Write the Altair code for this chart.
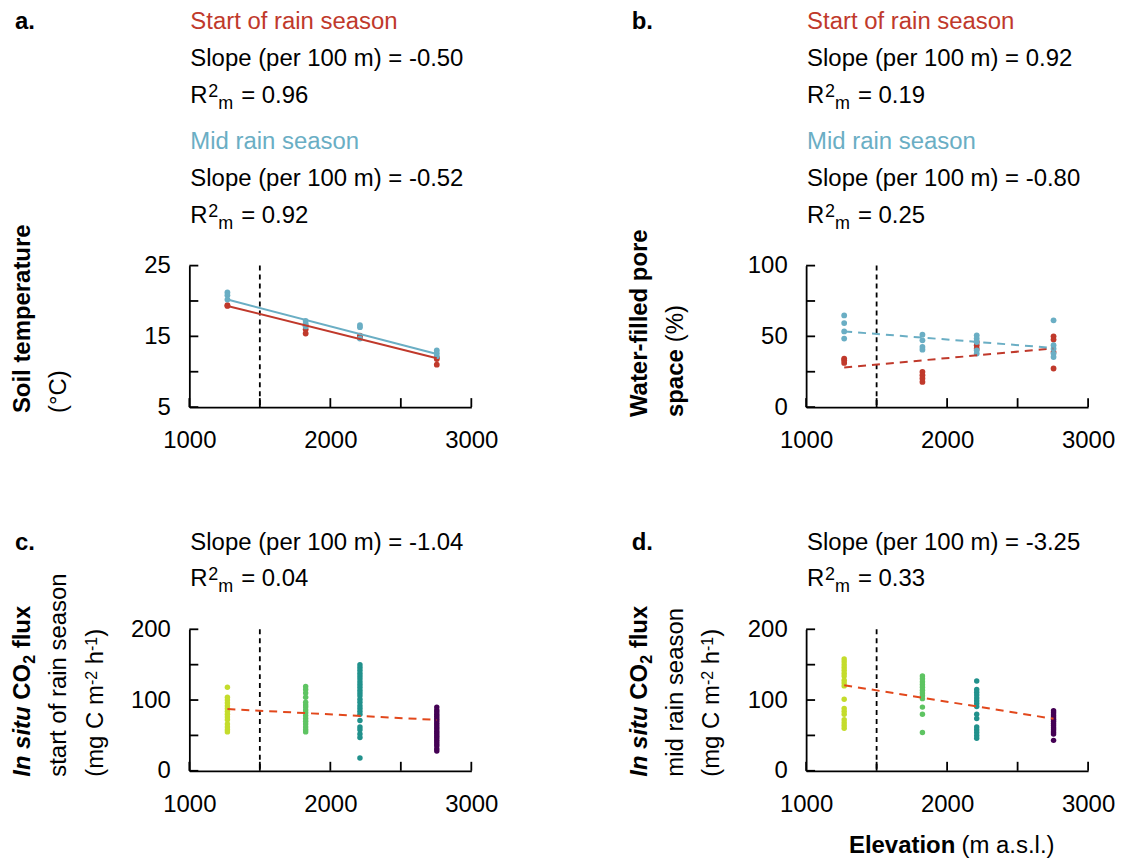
import altair as alt
import pandas as pd

FONT = "Liberation Sans, Arial, Helvetica, sans-serif"

# ---------------- data ----------------
ELEVATIONS = [1270, 1825, 2210, 2755]
FIT_ELEV = [1270, 2755]
VLINE_ELEV = [1500]
X_TICKS = [1000, 1500, 2000, 2500, 3000]
X_LABELS = [1000, 2000, 3000]

# a. soil temperature (deg C)
TEMP_START = [[19.4, 19.3], [16.5, 16.0, 15.4], [15.1, 14.8], [12.0, 11.8, 11.0]]
TEMP_MID = [[21.2, 20.8, 20.2], [17.2, 16.8, 16.4], [16.6, 16.3, 14.7], [13.0, 12.6, 12.2]]
TEMP_START_FIT = [19.3, 11.9]
TEMP_MID_FIT = [20.2, 12.5]
TEMP_TICKS = [5, 10, 15, 20, 25]
TEMP_LABELS = [5, 15, 25]

# b. water-filled pore space (%)
WFPS_START = [[34.3, 33.1, 31.2], [24.9, 22.5, 20.2, 17.8], [46.0, 43.7, 41.3], [50.0, 47.7, 38.9, 27.3]]
WFPS_MID = [[64.8, 59.4, 53.5, 48.4], [51.2, 47.2, 42.5, 40.6], [50.7, 48.4, 46.0, 40.1, 37.8],
            [61.3, 43.7, 41.3, 37.8, 35.4]]
WFPS_START_FIT = [28.0, 41.5]
WFPS_MID_FIT = [53.5, 41.8]
WFPS_TICKS = [0, 25, 50, 75, 100]
WFPS_LABELS = [0, 50, 100]

# c. in situ CO2 flux, start of rain season
FLUX_START = [
    [118, 104, 100, 96, 92, 88, 84, 80, 76, 72, 66, 62, 58, 55],
    [119, 115, 110, 104, 97, 93, 90, 86, 82, 78, 74, 70, 66, 62, 58, 55],
    [150, 146, 142, 138, 134, 130, 126, 122, 118, 114, 110, 106, 101, 97, 92, 88, 84, 80, 71, 62, 58, 52, 47, 18],
    [90, 86, 83, 80, 77, 74, 71, 68, 65, 62, 59, 56, 53, 50, 47, 44, 41, 38, 35, 31, 28],
]
FLUX_START_FIT = [87.3, 71.9]

# d. in situ CO2 flux, mid rain season
FLUX_MID = [
    [158, 154, 150, 146, 142, 138, 134, 128, 124, 120, 101, 88, 84, 80, 72, 68, 64, 60],
    [134, 130, 126, 122, 118, 114, 110, 106, 102, 90, 80, 54],
    [127, 115, 111, 107, 103, 99, 95, 91, 80, 74, 62, 58, 54, 50, 46],
    [85, 82, 79, 76, 73, 70, 67, 64, 61, 58, 55, 52, 43],
]
FLUX_MID_FIT = [121.0, 73.5]
FLUX_TICKS = [0, 50, 100, 150, 200]
FLUX_LABELS = [0, 100, 200]

SITE_COLORS = ["#c4dc2c", "#5ec462", "#21918c", "#440154"]
RED = "#c0392b"
BLUE = "#6aaec4"
FIT_ORANGE = "#e2481c"

W, H = 283, 142
ONE = pd.DataFrame({"k": [0]})


def long_df(groups):
    rows = []
    for e, vals in zip(ELEVATIONS, groups):
        for v in vals:
            rows.append({"elev": e, "val": v, "site": str(e)})
    return pd.DataFrame(rows)


def xenc():
    return alt.X("elev:Q", scale=alt.Scale(domain=[1000, 3000], nice=False, zero=False),
                 axis=alt.Axis(values=X_LABELS, title="", format="d"))


def yenc(dom, labels):
    return alt.Y("val:Q", scale=alt.Scale(domain=dom, nice=False, zero=False),
                 axis=alt.Axis(values=labels, title="", format="d"))


def T(s, x, y, size=24, weight="normal", style="normal", color="black", angle=0):
    kw = dict(align="left", baseline="alphabetic", font=FONT, fontSize=size,
              fontWeight=weight, fontStyle=style, color=color)
    if angle:
        kw["angle"] = angle
    return alt.Chart(ONE).mark_text(**kw).encode(x=alt.value(x), y=alt.value(y), text=alt.value(s))


def r2(val, y):
    return [T("R", 1, y), T("2", 19, y - 6, 18), T("m", 29, y + 6, 18), T("= " + val, 52, y)]


def frame(dom, ticks, labels):
    vline = alt.Chart(pd.DataFrame({"elev": VLINE_ELEV})).mark_rule(
        color="black", strokeDash=[5, 4], strokeWidth=1.8).encode(
        x=xenc(), y=alt.value(0), y2=alt.value(H))
    xt = alt.Chart(pd.DataFrame({"elev": X_TICKS})).mark_rule(
        color="black", strokeWidth=1.8).encode(x=xenc(), y=alt.value(H), y2=alt.value(H - 9))
    yt = alt.Chart(pd.DataFrame({"val": ticks})).mark_rule(
        color="black", strokeWidth=1.8).encode(y=yenc(dom, labels), x=alt.value(0), x2=alt.value(9))
    return [vline, xt, yt]


def pts_fixed(groups, color, dom, labels, size=34):
    return alt.Chart(long_df(groups)).mark_circle(size=size, opacity=1, color=color).encode(
        x=xenc(), y=yenc(dom, labels))


def pts_sites(groups, dom, labels, size=30):
    return alt.Chart(long_df(groups)).mark_circle(size=size, opacity=1).encode(
        x=xenc(), y=yenc(dom, labels),
        color=alt.Color("site:N", scale=alt.Scale(domain=[str(e) for e in ELEVATIONS], range=SITE_COLORS),
                        legend=None))


def fit(vals, color, dom, labels, dash=None):
    kw = dict(color=color, strokeWidth=2)
    if dash:
        kw["strokeDash"] = dash
    return alt.Chart(pd.DataFrame({"elev": FIT_ELEV, "val": vals})).mark_line(**kw).encode(
        x=xenc(), y=yenc(dom, labels))


# text baselines relative to plot top
L1, L2, L3, L4, L5, L6 = -237, -200, -163, -117, -80, -43
TX1 = -160  # first (bold) line of rotated y titles

# ---------------- panel a ----------------
dA = [5, 25]
pa = alt.layer(
    *frame(dA, TEMP_TICKS, TEMP_LABELS),
    pts_fixed(TEMP_START, RED, dA, TEMP_LABELS),
    pts_fixed(TEMP_MID, BLUE, dA, TEMP_LABELS),
    fit(TEMP_START_FIT, RED, dA, TEMP_LABELS),
    fit(TEMP_MID_FIT, BLUE, dA, TEMP_LABELS),
    T("a.", -175, L1, weight="bold"),
    T("Start of rain season", 1, L1, color=RED),
    T("Slope (per 100 m) = -0.50", 1, L2),
    *r2("0.96", L3),
    T("Mid rain season", 1, L4, color=BLUE),
    T("Slope (per 100 m) = -0.52", 1, L5),
    *r2("0.92", L6),
    T("Soil temperature", TX1, 148, weight="bold", angle=270),
    T("(°C)", -124, 148, angle=270),
).properties(width=W, height=H)

# ---------------- panel b ----------------
dB = [0, 100]
pb = alt.layer(
    *frame(dB, WFPS_TICKS, WFPS_LABELS),
    pts_fixed(WFPS_START, RED, dB, WFPS_LABELS),
    pts_fixed(WFPS_MID, BLUE, dB, WFPS_LABELS),
    fit(WFPS_START_FIT, RED, dB, WFPS_LABELS, dash=[8, 6]),
    fit(WFPS_MID_FIT, BLUE, dB, WFPS_LABELS, dash=[8, 6]),
    T("b.", -175, L1, weight="bold"),
    T("Start of rain season", 1, L1, color=RED),
    T("Slope (per 100 m) = 0.92", 1, L2),
    *r2("0.19", L3),
    T("Mid rain season", 1, L4, color=BLUE),
    T("Slope (per 100 m) = -0.80", 1, L5),
    *r2("0.25", L6),
    T("Water-filled pore", TX1, 152, weight="bold", angle=270),
    T("space", -124, 152, weight="bold", angle=270),
    T("(%)", -124, 77, angle=270),
).properties(width=W, height=H)


def flux_title(line2):
    b = 148
    return [
        T("In situ", TX1, b, weight="bold", style="italic", angle=270),
        T("CO", TX1, b - 77.4, weight="bold", angle=270),
        T("2", TX1 + 5, b - 113.4, size=16, weight="bold", angle=270),
        T("flux", TX1, b - 129, weight="bold", angle=270),
        T(line2, -124, b, angle=270),
        T("(mg C m", -87, b, angle=270),
        T("-2", -93, b - 92, size=16, angle=270),
        T("h", -87, b - 112.9, angle=270),
        T("-1", -93, b - 126.2, size=16, angle=270),
        T(")", -87, b - 140.4, angle=270),
    ]


dC = [0, 200]
pc = alt.layer(
    *frame(dC, FLUX_TICKS, FLUX_LABELS),
    pts_sites(FLUX_START, dC, FLUX_LABELS),
    fit(FLUX_START_FIT, FIT_ORANGE, dC, FLUX_LABELS, dash=[8, 6]),
    T("c.", -175, L5, weight="bold"),
    T("Slope (per 100 m) = -1.04", 1, L5),
    *r2("0.04", L6),
    *flux_title("start of rain season"),
).properties(width=W, height=H)

pd_ = alt.layer(
    *frame(dC, FLUX_TICKS, FLUX_LABELS),
    pts_sites(FLUX_MID, dC, FLUX_LABELS),
    fit(FLUX_MID_FIT, FIT_ORANGE, dC, FLUX_LABELS, dash=[8, 6]),
    T("d.", -175, L5, weight="bold"),
    T("Slope (per 100 m) = -3.25", 1, L5),
    *r2("0.33", L6),
    *flux_title("mid rain season"),
    T("Elevation", 43, 225, weight="bold"),
    T("(m a.s.l.)", 156, 225),
).properties(width=W, height=H)

chart = alt.concat(pa, pb, pc, pd_, columns=2, spacing={"row": 223, "column": 336}, bounds="flush")
chart = chart.properties(padding={"left": 2, "top": 0, "right": 0, "bottom": 0}).configure_view(
    stroke="transparent").configure_axis(
    domainColor="black", domainWidth=1.8, ticks=False, tickSize=0, grid=False,
    labelFont=FONT, labelFontSize=24, labelColor="black", labelFlush=False, labelOverlap=False,
).configure_axisX(labelPadding=22).configure_axisY(labelPadding=19)

chart.save("out.html", embed_options={"renderer": "svg", "actions": False})
